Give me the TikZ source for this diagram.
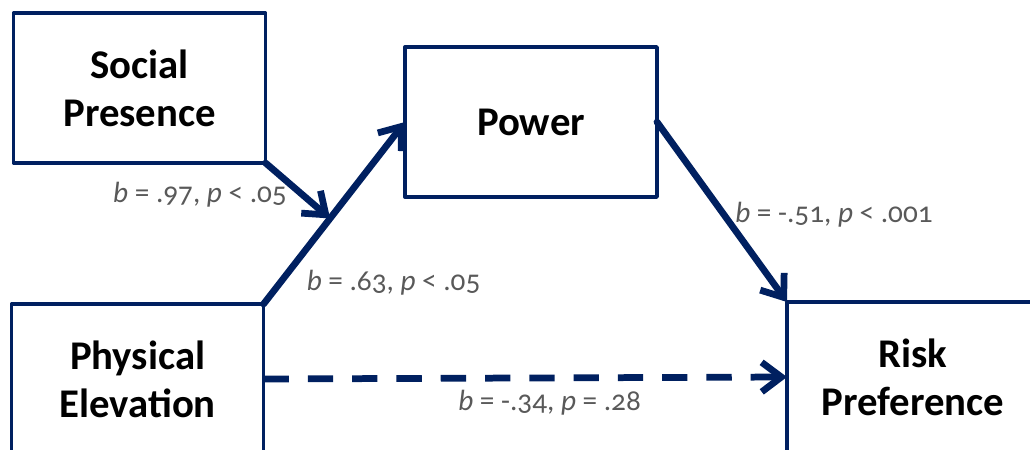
\documentclass[tikz,border=0pt]{standalone}
\usepackage{fontspec}
\setmainfont{Carlito}[Numbers=OldStyle]
\usetikzlibrary{arrows.meta}
\definecolor{navy}{HTML}{002060}
\definecolor{labgray}{HTML}{595959}
\tikzset{
  varbox/.style={draw=navy,line width=2.4pt,minimum width=6.3cm,minimum height=3.75cm,
    outer sep=0pt,align=center,font=\fontsize{29}{34}\selectfont\bfseries},
  path/.style={draw=navy,line width=4.8pt,-{Straight Barb[length=14pt,width=21pt]}},
  coef/.style={text=labgray,font=\fontsize{20.8}{24}\selectfont,inner sep=0pt}
}
\begin{document}
\begin{tikzpicture}[line join=round,line cap=round]
	\useasboundingbox (0,0) rectangle (25.75,11.225);
	\node[varbox] (social) at (3.49,9.025) {Social\\Presence};
	\node[varbox] (power) at (13.275,8.175) {Power};
	\node[varbox] (phys) at (3.44,1.75) {Physical\\Elevation};
	\node[varbox] (risk) at (22.825,1.8) {Risk\\Preference};
	% paths
	\draw[path] (phys.north east) -- coordinate[pos=0.47] (mod) (power.west);
	\draw[path] (social.south east) -- (mod);
	\draw[path] (power.east) -- (risk.north west);
	\draw[path,line cap=butt,dash pattern=on 18pt off 13.5pt] (phys.east) -- (risk.west);
	% coefficients
	\node[coef] (c1) at (5.0,6.35) {\textit{b} = .97, \textit{p} < .05};
	\node[coef] (c2) at (9.84,4.15) {\textit{b} = .63, \textit{p} < .05};
	\node[coef] (c3) at (20.85,5.85) {\textit{b} = -.51, \textit{p} < .001};
	\node[coef] (c4) at (13.74,1.15) {\textit{b} = -.34, \textit{p} = .28};
\end{tikzpicture}
\end{document}
